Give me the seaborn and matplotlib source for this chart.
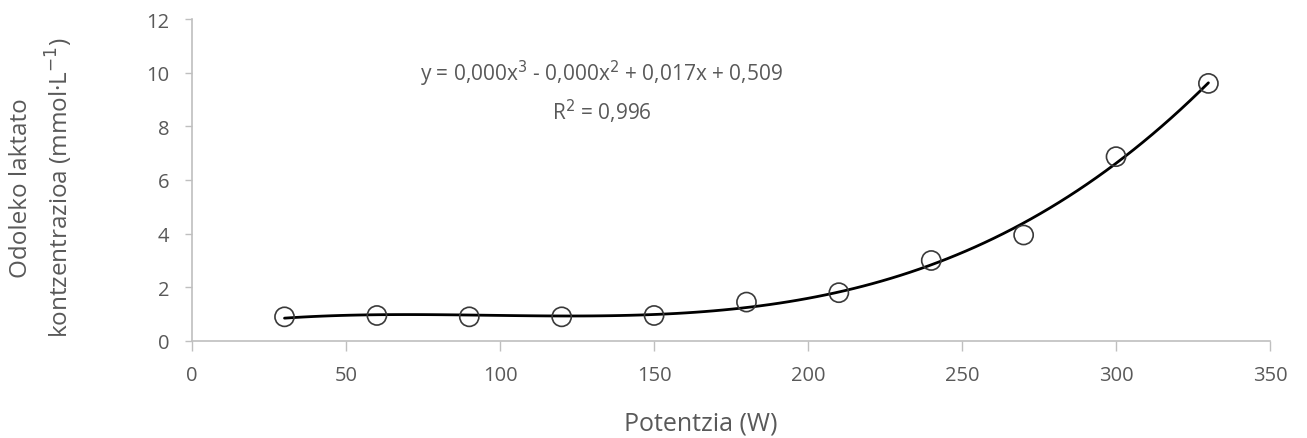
import matplotlib
matplotlib.use("Agg")
import matplotlib.pyplot as plt
import seaborn as sns
import numpy as np
import pandas as pd

power_w = [30, 60, 90, 120, 150, 180, 210, 240, 270, 300, 330]
lactate = [0.9, 0.95, 0.9, 0.9, 0.95, 1.45, 1.8, 3.0, 3.95, 6.87, 9.6]
x_ticks = [0, 50, 100, 150, 200, 250, 300, 350]
y_ticks = [0, 2, 4, 6, 8, 10, 12]

sns.set_theme(style="white")
plt.rcParams['font.family'] = ['Open Sans', 'DejaVu Sans']

df = pd.DataFrame({"Potentzia": power_w, "Laktato": lactate})

fig = plt.figure(figsize=(13.07, 4.39), dpi=100)
ax = fig.add_axes([0.147, 0.221, 0.8247, 0.7334])

sns.regplot(data=df, x="Potentzia", y="Laktato", order=3, ci=None, ax=ax,
            scatter_kws=dict(s=190, facecolors="none", edgecolors="#3a3a3a", linewidths=1.2, zorder=3, alpha=1),
            line_kws=dict(color="black", lw=2.0, zorder=2))

ax.set_xlim(0, 350)
ax.set_ylim(0, 12)
ax.set_xticks(x_ticks)
ax.set_yticks(y_ticks)
grey = "#595959"
ax.tick_params(axis="both", colors="#bfbfbf", labelcolor=grey, labelsize=14.5,
               direction="out", width=1, bottom=True, left=True)
ax.tick_params(axis="x", length=7.2, pad=10)
ax.tick_params(axis="y", length=5, pad=11.5)
for s in ["top", "right"]:
    ax.spines[s].set_visible(False)
for s in ["left", "bottom"]:
    ax.spines[s].set_color("#bfbfbf")
    ax.spines[s].set_linewidth(1.2)

ax.set_xlabel("Potentzia (W)", color=grey, fontsize=18)
ax.xaxis.set_label_coords(0.4717, -0.255)
ax.set_ylabel("Odoleko laktato\nkontzentrazioa (mmol·L$^{-1}$)", color=grey, fontsize=17.5,
              linespacing=1.45, va="center")
ax.yaxis.set_label_coords(-0.139, 0.478)
ax.xaxis.label.set_va("center")

ax.text(133, 9.3, "y = 0,000x$^3$ - 0,000x$^2$ + 0,017x + 0,509\nR$^2$ = 0,996",
        ha="center", va="center", color=grey, fontsize=15, linespacing=1.4)

fig.savefig("out.png", dpi=100)
